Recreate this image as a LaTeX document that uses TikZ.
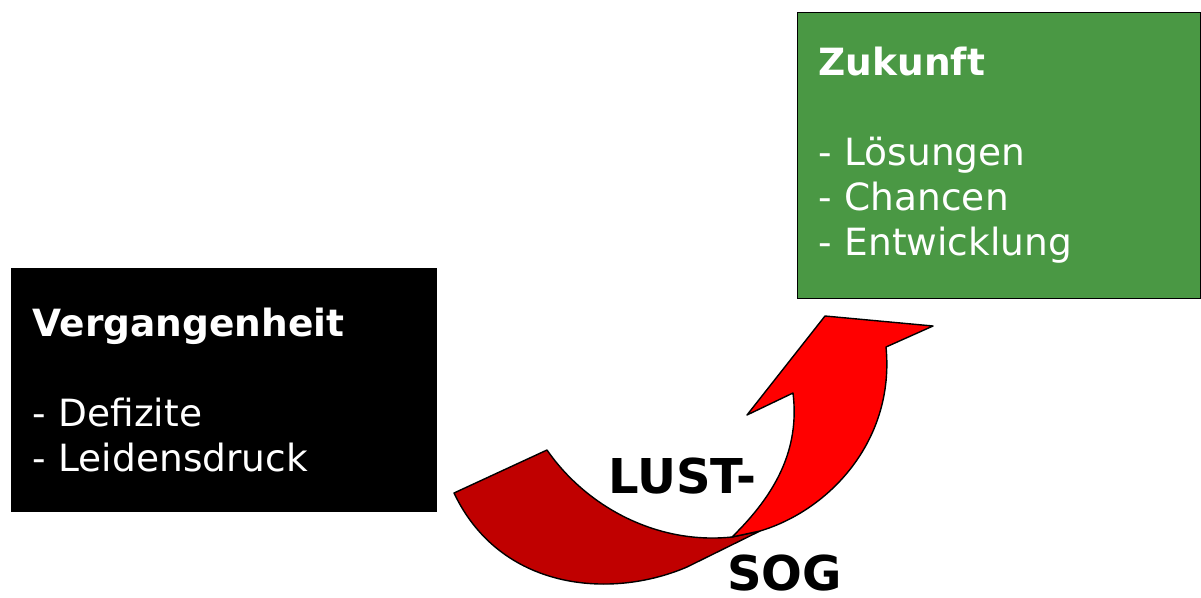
\documentclass[tikz,border=0pt]{standalone}
\usepackage{fontspec}
\setmainfont{DejaVu Sans}
\definecolor{futuregreen}{RGB}{74,152,68}
\definecolor{darkred}{RGB}{192,0,0}
\definecolor{brightred}{RGB}{255,0,0}
\tikzset{
  infobox/.style={draw=black, line width=1.2pt, anchor=north west, text=white, align=left,
    inner xsep=21pt, inner ysep=0pt, font=\fontsize{37.5}{45}\selectfont},
  bigword/.style={font=\fontsize{48}{56}\selectfont\bfseries, inner sep=0pt},
  ribbon/.style={draw=black, line width=1.4pt, line join=round}
}

\begin{document}
\begin{tikzpicture}[x=1pt,y=-1pt]
\useasboundingbox (0,0) rectangle (1201,597);
\node[infobox, fill=black, text width=383pt, minimum height=243pt] (past) at (11,268)
  {\textbf{Vergangenheit}\\[45pt]- Defizite\\- Leidensdruck};
\node[infobox, fill=futuregreen, text width=361pt, minimum height=286pt] (future) at (797,12)
  {\textbf{Zukunft}\\[45pt]- Lösungen\\- Chancen\\- Entwicklung};
\filldraw[ribbon, fill=darkred] (454,493) -- (547,450)
  .. controls (585,505) and (655,545) .. (732,537) -- (760,531) -- (687,567)
  .. controls (610,600) and (500,590) .. (454,493) -- cycle;
\filldraw[ribbon, fill=brightred] (732,537)
  .. controls (775,495) and (800,450) .. (793,393) -- (747,415) -- (825,316) -- (933,326) -- (886,347)
  .. controls (895,440) and (830,510) .. (760,531) -- cycle;
\node[bigword, anchor=base west] (lust) at (608,493) {LUST-};
\node[bigword, anchor=base west] (sog) at (727,590) {SOG};
\end{tikzpicture}
\end{document}
